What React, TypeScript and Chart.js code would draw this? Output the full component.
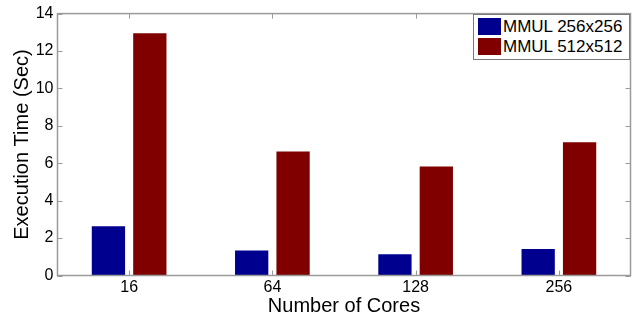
import React, { useEffect, useRef } from "react";
import { Chart, registerables } from "chart.js";

Chart.register(...registerables);

const categories = ["16", "64", "128", "256"];
const seriesNames = ["MMUL 256x256", "MMUL 512x512"];
const mmul256 = [2.63, 1.33, 1.13, 1.42];
const mmul512 = [12.95, 6.63, 5.82, 7.12];
const seriesColors = ["#00008F", "#800000"];
const yTicks = [0, 2, 4, 6, 8, 10, 12, 14];

const FONT = "'Liberation Sans', Arial, Helvetica, sans-serif";
const FRAME = "#9a9a9a";

const framePlugin = {
  id: "matlabFrame",
  afterDatasetsDraw(chart: any) {
    const { ctx, chartArea, scales } = chart;
    const { left, right, top, bottom } = chartArea;
    ctx.save();
    ctx.strokeStyle = FRAME;
    ctx.lineWidth = 1.5;
    ctx.strokeRect(left, top, right - left, bottom - top);
    ctx.lineWidth = 1;
    const len = 5;
    const xs = scales.x;
    for (let i = 0; i < xs.ticks.length; i++) {
      const px = Math.round(xs.getPixelForTick(i)) + 0.5;
      ctx.beginPath();
      ctx.moveTo(px, bottom);
      ctx.lineTo(px, bottom - len);
      ctx.moveTo(px, top);
      ctx.lineTo(px, top + len);
      ctx.stroke();
    }
    const ys = scales.y;
    for (const t of ys.ticks) {
      const py = Math.round(ys.getPixelForValue(t.value)) + 0.5;
      ctx.beginPath();
      ctx.moveTo(left, py);
      ctx.lineTo(left + len, py);
      ctx.moveTo(right, py);
      ctx.lineTo(right - len, py);
      ctx.stroke();
    }
    ctx.restore();
  },
};

export default function App() {
  const canvasRef = useRef<HTMLCanvasElement | null>(null);

  useEffect(() => {
    const canvas = canvasRef.current;
    if (!canvas) return;
    const chart = new Chart(canvas, {
      type: "bar",
      data: {
        labels: categories,
        datasets: [
          {
            label: seriesNames[0],
            data: mmul256,
            backgroundColor: seriesColors[0],
            borderWidth: 0,
            categoryPercentage: 0.578,
            barPercentage: 0.804,
          },
          {
            label: seriesNames[1],
            data: mmul512,
            backgroundColor: seriesColors[1],
            borderWidth: 0,
            categoryPercentage: 0.578,
            barPercentage: 0.804,
          },
        ],
      },
      options: {
        responsive: false,
        animation: false,
        devicePixelRatio: 1,
        layout: { padding: { left: 0, top: 10.7, right: 8.5, bottom: 0 } },
        plugins: {
          legend: { display: false },
          tooltip: { enabled: false },
        },
        scales: {
          x: {
            type: "category",
            offset: true,
            grid: { display: false, drawTicks: false },
            border: { display: false },
            ticks: {
              color: "#000",
              font: { family: FONT, size: 16 },
              padding: 2,
              maxRotation: 0,
            },
            title: {
              display: true,
              text: "Number of Cores",
              color: "#000",
              font: { family: FONT, size: 20 },
              padding: { top: 0, bottom: 4 },
            },
            afterFit: (s: any) => {
              s.height = 46.5;
            },
          },
          y: {
            type: "linear",
            min: 0,
            max: 14,
            afterBuildTicks: (s: any) => {
              s.ticks = yTicks.map((v) => ({ value: v }));
            },
            grid: { display: false, drawTicks: false },
            border: { display: false },
            ticks: {
              color: "#000",
              font: { family: FONT, size: 16 },
              padding: 4,
            },
            title: {
              display: true,
              text: "Execution Time (Sec)",
              color: "#000",
              font: { family: FONT, size: 20 },
              padding: { top: 10.5, bottom: 0 },
            },
            afterFit: (s: any) => {
              s.width = 57.5;
            },
          },
        },
      },
      plugins: [framePlugin],
    });
    return () => chart.destroy();
  }, []);

  return (
    <div
      style={{
        position: "fixed",
        left: 0,
        top: 0,
        width: 639,
        height: 322,
        background: "#fff",
      }}
    >
      <canvas ref={canvasRef} width={639} height={322} style={{ display: "block" }} />
      <div
        style={{
          position: "absolute",
          left: 473,
          top: 14,
          width: 155,
          height: 44,
          border: "1px solid #7a7a7a",
          background: "#fff",
          fontFamily: FONT,
          fontSize: 17,
          color: "#000",
        }}
      >
        {seriesNames.map((name, i) => (
          <div
            key={name}
            style={{
              position: "absolute",
              left: 4,
              top: 3 + i * 20,
              height: 17,
              display: "flex",
              alignItems: "center",
              whiteSpace: "nowrap",
            }}
          >
            <span
              style={{
                display: "inline-block",
                width: 23,
                height: 17,
                background: seriesColors[i],
                marginRight: 2,
              }}
            />
            <span style={{ lineHeight: "17px" }}>{name}</span>
          </div>
        ))}
      </div>
    </div>
  );
}
